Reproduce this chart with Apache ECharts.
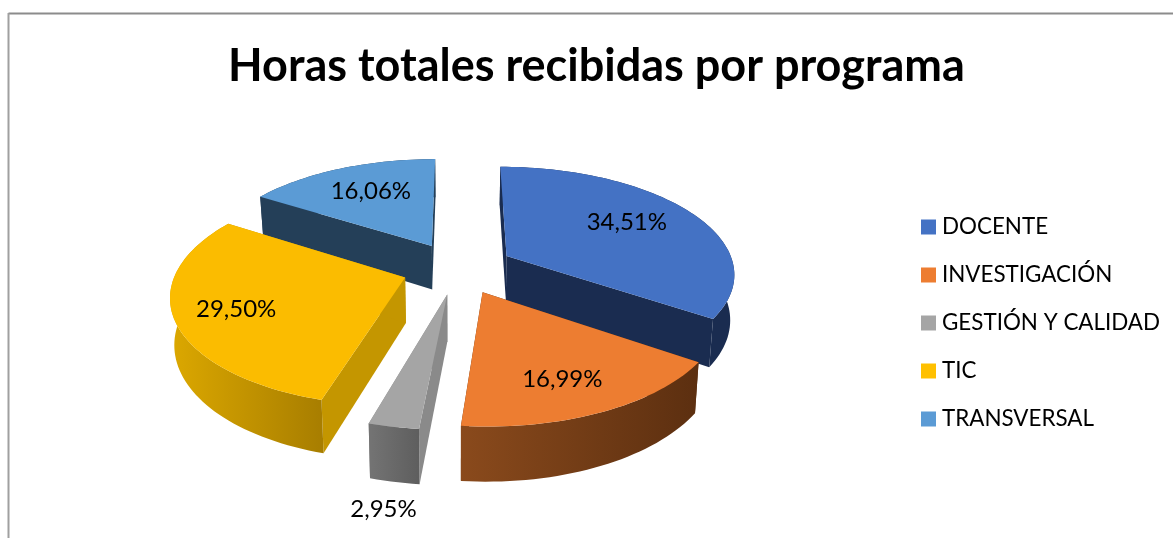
<!DOCTYPE html>
<html><head><meta charset="utf-8">
<style>html,body{margin:0;padding:0;background:#fff}#c{width:1173px;height:538px}</style>
<script src="https://cdn.jsdelivr.net/npm/echarts@6/dist/echarts.min.js"></script>
</head><body><div id="c"></div>
<script>
const titleText = 'Horas totales recibidas por programa';
const categories = ['DOCENTE','INVESTIGACIÓN','GESTIÓN Y CALIDAD','TIC','TRANSVERSAL'];
const shares = [34.51,16.99,2.95,29.50,16.06];

const topColors = ['#4472c4','#ed7d31','#a5a5a5','#fbbc00','#5b9bd5'];
const legendColors = ['#4472c4','#ed7d31','#a5a5a5','#ffc000','#5b9bd5'];
const arcLeft = ['#1a2c50','#8a4a1c','#747474','#dca800','#243f58'];
const arcRight = ['#1a2c50','#5c2f10','#5e5e5e','#a87e00','#243f58'];
const radialColors = ['#1a2c50','#5c2f10','#8a8a8a','#c49600','#243f58'];
const stacking = [2,4,5,3,1];
const labelRadius = [0.69,0.755,1.475,0.75,0.66];
const labelNudge = [[-8,-2],[-8,0],[23,1],[2,2],[2,-2]];

const view = {cx:458, cy:268, R:228, K:106, p:0.15, explode:0.245, depth:45, shrink:0.985};
const FONT = 'Lato, "Open Sans", sans-serif';

function proj(u,v,low){
  const s = 1/(1+view.p*v);
  let x = view.cx + view.R*u*s, y = view.cy - view.K*v*s;
  if(low){ x = view.cx + (x-view.cx)*view.shrink; y += view.depth*s; }
  return [x,y];
}
const total = shares.reduce((a,b)=>a+b,0);
function startOf(i){ let a=0; for(let k=0;k<i;k++) a+=shares[k]; return a/total*Math.PI*2; }

function sliceRender(i){
  return function(params, api){
    const val = api.value(0);
    const a0 = startOf(i), a1 = a0 + val/total*Math.PI*2, mid=(a0+a1)/2;
    const ou = view.explode*Math.sin(mid), ov = view.explode*Math.cos(mid);
    const steps = Math.max(4, Math.ceil((a1-a0)/0.03));
    const topArc=[], lowArc=[];
    for(let k=0;k<=steps;k++){
      const t=a0+(a1-a0)*k/steps, u=ou+Math.sin(t), v=ov+Math.cos(t);
      topArc.push(proj(u,v,false)); lowArc.push(proj(u,v,true));
    }
    const apexT=proj(ou,ov,false), apexL=proj(ou,ov,true);
    const xs=topArc.map(p=>p[0]);
    const grad={type:'linear',global:true,x:Math.min(...xs),y:0,x2:Math.max(...xs),y2:0,
      colorStops:[{offset:0,color:arcLeft[i]},{offset:1,color:arcRight[i]}]};
    const poly=(pts,fill)=>({type:'polygon',shape:{points:pts},style:{fill:fill,stroke:null},silent:true});
    const lastT=topArc[steps], lastL=lowArc[steps], firstT=topArc[0], firstL=lowArc[0];
    const children=[
      poly([apexT,firstT,firstL,apexL],radialColors[i]),
      poly([apexT,lastT,lastL,apexL],radialColors[i]),
      poly(topArc.concat(lowArc.slice().reverse()),grad),
      poly([apexT].concat(topArc),topColors[i])
    ];
    const lr=labelRadius[i], lp=proj(ou+lr*Math.sin(mid),ov+lr*Math.cos(mid),false);
    children.push({type:'text',silent:true,style:{text:val.toFixed(2).replace('.',',')+'%',
      x:lp[0]+labelNudge[i][0],y:lp[1]+labelNudge[i][1],
      fill:'#000',font:'24px '+FONT,align:'center',verticalAlign:'middle'}});
    return {type:'group',children};
  };
}

const chart = echarts.init(document.getElementById('c'),null,{renderer:'canvas'});
chart.setOption({
  animation:false,
  backgroundColor:'#fff',
  title:{text:titleText,left:591.5,top:39,textAlign:'center',
    textStyle:{fontFamily:FONT,fontWeight:700,fontSize:45,color:'#000'}},
  legend:{orient:'vertical',left:916,top:211,itemWidth:15,itemHeight:15,itemGap:26,
    icon:'rect',selectedMode:false,data:categories,
    textStyle:{fontFamily:FONT,fontSize:22.4,color:'#000',padding:[0,0,0,1]}},
  graphic:[
    {type:'line',shape:{x1:8.5,y1:13.5,x2:1173,y2:13.5},style:{stroke:'#8c8c8c',lineWidth:2}},
    {type:'line',shape:{x1:8.5,y1:13,x2:8.5,y2:538},style:{stroke:'#a0a0a0',lineWidth:2}}
  ],
  series:categories.map((name,i)=>({
    type:'custom',name,coordinateSystem:'none',z:stacking[i]+2,silent:true,
    itemStyle:{color:legendColors[i]},
    data:[shares[i]],
    renderItem:sliceRender(i)
  }))
});
</script></body></html>
